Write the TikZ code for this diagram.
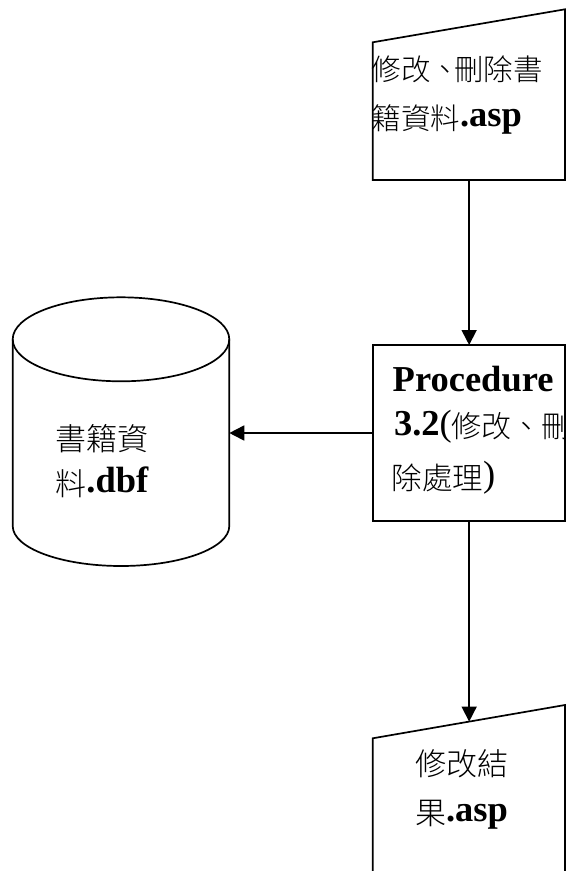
\documentclass[tikz,border=0pt]{standalone}
\usepackage{fontspec}
\setmainfont{Liberation Serif}
\newfontfamily\cjkfont{Noto Sans CJK TC Light}
\usetikzlibrary{arrows.meta}
\newcommand\zh[2][31]{\raisebox{-2.5pt}{\cjkfont\fontsize{#1}{#1}\selectfont #2}}
\begin{document}
\begin{tikzpicture}[x=1pt,y=-1pt,
  shapeline/.style={draw=black, line width=1.7pt, line join=miter},
  conn/.style={draw=black, line width=1.7pt, -{Triangle[length=15pt,width=15pt]}},
  ghost/.style={inner sep=0pt, outer sep=0pt, anchor=north west},
  txt/.style={anchor=base west, inner sep=0pt, outer sep=0pt, font=\fontsize{36.5}{45}\selectfont}]
\useasboundingbox (0,0) rectangle (573,871);

% --- input page: 修改、刪除書籍資料.asp
\node[ghost, minimum width=192.3pt, minimum height=170.7pt] (inp) at (372.7,9.3) {};
\draw[shapeline] (372.7,42.3) -- (565,9.3) -- (565,180) -- (372.7,180) -- cycle;
\node[txt] (inpA) at (371.5,78.3) {\zh[29.5]{修改、\kern-6pt 刪除書}};
\node[txt] (inpB) at (371.5,126.7) {\zh[29.5]{籍資料}\textbf{.asp}};

% --- procedure box
\begin{scope}
\clip (373.3,345) rectangle (565,521);
\node[txt] (procA) at (392.7,391.7) {\textbf{Procedure}};
\node[txt] (procB) at (394,435) {\textbf{3.2}(\zh[30]{修改、刪}};
\node[txt] (procC) at (391.5,486.7) {\zh[30.5]{除處理})};
\end{scope}
\node[draw, shapeline, ghost, minimum width=191.7pt, minimum height=176pt] (proc) at (373.3,345) {};

% --- database cylinder
\node[inner sep=0pt, outer sep=0pt, minimum width=216.6pt, minimum height=186.7pt] (db) at (121,433) {};
\draw[shapeline] (121,339.3) ellipse [x radius=108.3pt, y radius=42pt];
\draw[shapeline] (12.7,339.3) -- (12.7,526) arc[start angle=180, end angle=360, x radius=108.3pt, y radius=40pt] -- (229.3,339.3);
\node[txt] (dbA) at (55.5,447.7) {\zh{書籍資}};
\node[txt] (dbB) at (55.5,492.7) {\zh{料}\textbf{.dbf}};

% --- output page: 修改結果.asp
\node[ghost, minimum width=192.3pt, minimum height=166pt] (outd) at (372.7,705) {};
\coordinate (outtop) at (469.15,721.6);
\draw[shapeline] (372.7,871) -- (372.7,738.3) -- (565,705) -- (565,871);
\node[txt] (outA) at (415,772.7) {\zh{修改結}};
\node[txt] (outB) at (415,821.7) {\zh{果}\textbf{.asp}};

% --- connectors
\draw[conn] (inp.south) -- (inp.south -| proc.north) -- (proc.north);
\draw[conn] (proc.west) -- (db.east);
\draw[conn] (proc.south) -- (outtop);
\end{tikzpicture}
\end{document}
